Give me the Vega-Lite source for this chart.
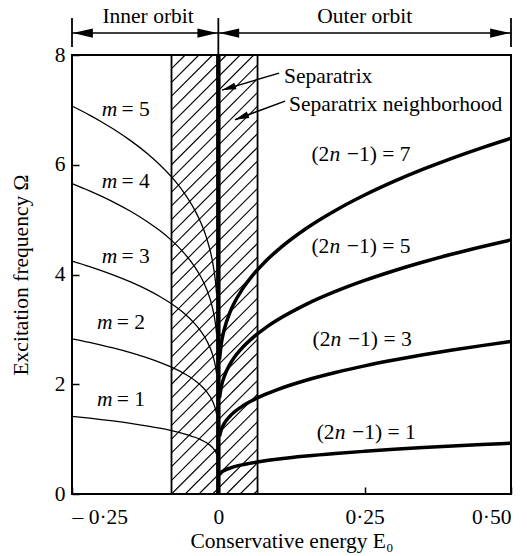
{
  "$schema": "https://vega.github.io/schema/vega-lite/v6.json",
  "autosize": "none",
  "width": 439,
  "height": 439,
  "padding": {"left": 72, "top": 55, "right": 16, "bottom": 62},
  "background": "white",
  "config": {
    "view": {"stroke": "black", "strokeWidth": 2},
    "font": "Liberation Serif",
    "axis": {
      "labelFont": "Liberation Serif", "titleFont": "Liberation Serif",
      "labelFontSize": 21.5, "titleFontSize": 21.5, "titleFontWeight": "normal",
      "labelColor": "black", "titleColor": "black", "tickColor": "black",
      "grid": false, "domain": false, "tickWidth": 1.5
    }
  },
  "datasets": {
    "inner": [
      {"m": 1, "E": -0.25, "W": 1.414}, {"m": 1, "E": -0.22, "W": 1.381}, {"m": 1, "E": -0.2, "W": 1.357}, {"m": 1, "E": -0.18, "W": 1.331}, {"m": 1, "E": -0.15, "W": 1.288}, {"m": 1, "E": -0.12, "W": 1.238}, {"m": 1, "E": -0.1, "W": 1.2}, {"m": 1, "E": -0.08, "W": 1.156}, {"m": 1, "E": -0.06, "W": 1.102}, {"m": 1, "E": -0.04, "W": 1.034}, {"m": 1, "E": -0.03, "W": 0.99}, {"m": 1, "E": -0.02, "W": 0.933}, {"m": 1, "E": -0.01, "W": 0.848}, {"m": 1, "E": -0.005, "W": 0.777}, {"m": 1, "E": -0.003, "W": 0.731},
      {"m": 2, "E": -0.25, "W": 2.828}, {"m": 2, "E": -0.22, "W": 2.762}, {"m": 2, "E": -0.2, "W": 2.714}, {"m": 2, "E": -0.18, "W": 2.662}, {"m": 2, "E": -0.15, "W": 2.576}, {"m": 2, "E": -0.12, "W": 2.477}, {"m": 2, "E": -0.1, "W": 2.4}, {"m": 2, "E": -0.08, "W": 2.311}, {"m": 2, "E": -0.06, "W": 2.204}, {"m": 2, "E": -0.04, "W": 2.068}, {"m": 2, "E": -0.03, "W": 1.979}, {"m": 2, "E": -0.02, "W": 1.865}, {"m": 2, "E": -0.01, "W": 1.696}, {"m": 2, "E": -0.005, "W": 1.554}, {"m": 2, "E": -0.003, "W": 1.462},
      {"m": 3, "E": -0.25, "W": 4.243}, {"m": 3, "E": -0.22, "W": 4.143}, {"m": 3, "E": -0.2, "W": 4.071}, {"m": 3, "E": -0.18, "W": 3.993}, {"m": 3, "E": -0.15, "W": 3.864}, {"m": 3, "E": -0.12, "W": 3.715}, {"m": 3, "E": -0.1, "W": 3.6}, {"m": 3, "E": -0.08, "W": 3.467}, {"m": 3, "E": -0.06, "W": 3.307}, {"m": 3, "E": -0.04, "W": 3.101}, {"m": 3, "E": -0.03, "W": 2.969}, {"m": 3, "E": -0.02, "W": 2.798}, {"m": 3, "E": -0.01, "W": 2.544}, {"m": 3, "E": -0.005, "W": 2.33}, {"m": 3, "E": -0.003, "W": 2.193},
      {"m": 4, "E": -0.25, "W": 5.657}, {"m": 4, "E": -0.22, "W": 5.524}, {"m": 4, "E": -0.2, "W": 5.427}, {"m": 4, "E": -0.18, "W": 5.324}, {"m": 4, "E": -0.15, "W": 5.152}, {"m": 4, "E": -0.12, "W": 4.953}, {"m": 4, "E": -0.1, "W": 4.8}, {"m": 4, "E": -0.08, "W": 4.622}, {"m": 4, "E": -0.06, "W": 4.409}, {"m": 4, "E": -0.04, "W": 4.135}, {"m": 4, "E": -0.03, "W": 3.958}, {"m": 4, "E": -0.02, "W": 3.73}, {"m": 4, "E": -0.01, "W": 3.392}, {"m": 4, "E": -0.005, "W": 3.107}, {"m": 4, "E": -0.003, "W": 2.925},
      {"m": 5, "E": -0.25, "W": 7.071}, {"m": 5, "E": -0.22, "W": 6.905}, {"m": 5, "E": -0.2, "W": 6.784}, {"m": 5, "E": -0.18, "W": 6.655}, {"m": 5, "E": -0.15, "W": 6.44}, {"m": 5, "E": -0.12, "W": 6.192}, {"m": 5, "E": -0.1, "W": 6.0}, {"m": 5, "E": -0.08, "W": 5.778}, {"m": 5, "E": -0.06, "W": 5.511}, {"m": 5, "E": -0.04, "W": 5.169}, {"m": 5, "E": -0.03, "W": 4.948}, {"m": 5, "E": -0.02, "W": 4.663}, {"m": 5, "E": -0.01, "W": 4.24}, {"m": 5, "E": -0.005, "W": 3.884}, {"m": 5, "E": -0.003, "W": 3.656}
    ],
    "outer": [
      {"n": 1, "E": 0.002, "W": 0.35}, {"n": 1, "E": 0.005, "W": 0.39}, {"n": 1, "E": 0.01, "W": 0.428}, {"n": 1, "E": 0.02, "W": 0.473}, {"n": 1, "E": 0.04, "W": 0.531}, {"n": 1, "E": 0.06, "W": 0.572}, {"n": 1, "E": 0.08, "W": 0.605}, {"n": 1, "E": 0.1, "W": 0.633}, {"n": 1, "E": 0.15, "W": 0.691}, {"n": 1, "E": 0.2, "W": 0.738}, {"n": 1, "E": 0.25, "W": 0.778}, {"n": 1, "E": 0.3, "W": 0.814}, {"n": 1, "E": 0.35, "W": 0.846}, {"n": 1, "E": 0.4, "W": 0.875}, {"n": 1, "E": 0.45, "W": 0.901}, {"n": 1, "E": 0.5, "W": 0.926},
      {"n": 3, "E": 0.002, "W": 1.05}, {"n": 3, "E": 0.005, "W": 1.17}, {"n": 3, "E": 0.01, "W": 1.283}, {"n": 3, "E": 0.02, "W": 1.42}, {"n": 3, "E": 0.04, "W": 1.593}, {"n": 3, "E": 0.06, "W": 1.715}, {"n": 3, "E": 0.08, "W": 1.814}, {"n": 3, "E": 0.1, "W": 1.899}, {"n": 3, "E": 0.15, "W": 2.073}, {"n": 3, "E": 0.2, "W": 2.214}, {"n": 3, "E": 0.25, "W": 2.335}, {"n": 3, "E": 0.3, "W": 2.441}, {"n": 3, "E": 0.35, "W": 2.537}, {"n": 3, "E": 0.4, "W": 2.624}, {"n": 3, "E": 0.45, "W": 2.704}, {"n": 3, "E": 0.5, "W": 2.778},
      {"n": 5, "E": 0.002, "W": 1.75}, {"n": 5, "E": 0.005, "W": 1.951}, {"n": 5, "E": 0.01, "W": 2.138}, {"n": 5, "E": 0.02, "W": 2.367}, {"n": 5, "E": 0.04, "W": 2.655}, {"n": 5, "E": 0.06, "W": 2.859}, {"n": 5, "E": 0.08, "W": 3.024}, {"n": 5, "E": 0.1, "W": 3.165}, {"n": 5, "E": 0.15, "W": 3.456}, {"n": 5, "E": 0.2, "W": 3.691}, {"n": 5, "E": 0.25, "W": 3.892}, {"n": 5, "E": 0.3, "W": 4.069}, {"n": 5, "E": 0.35, "W": 4.228}, {"n": 5, "E": 0.4, "W": 4.373}, {"n": 5, "E": 0.45, "W": 4.506}, {"n": 5, "E": 0.5, "W": 4.631},
      {"n": 7, "E": 0.002, "W": 2.449}, {"n": 7, "E": 0.005, "W": 2.731}, {"n": 7, "E": 0.01, "W": 2.993}, {"n": 7, "E": 0.02, "W": 3.314}, {"n": 7, "E": 0.04, "W": 3.716}, {"n": 7, "E": 0.06, "W": 4.003}, {"n": 7, "E": 0.08, "W": 4.234}, {"n": 7, "E": 0.1, "W": 4.431}, {"n": 7, "E": 0.15, "W": 4.838}, {"n": 7, "E": 0.2, "W": 5.167}, {"n": 7, "E": 0.25, "W": 5.448}, {"n": 7, "E": 0.3, "W": 5.696}, {"n": 7, "E": 0.35, "W": 5.919}, {"n": 7, "E": 0.4, "W": 6.122}, {"n": 7, "E": 0.45, "W": 6.309}, {"n": 7, "E": 0.5, "W": 6.483}
    ],
    "hatch": [
      {"E": 0.0606, "W": 0, "E2": 0.067, "W2": 0.068},
      {"E": 0.0372, "W": 0, "E2": 0.067, "W2": 0.318},
      {"E": 0.0138, "W": 0, "E2": 0.067, "W2": 0.568},
      {"E": -0.0097, "W": 0, "E2": 0.067, "W2": 0.818},
      {"E": -0.0331, "W": 0, "E2": 0.067, "W2": 1.068},
      {"E": -0.0566, "W": 0, "E2": 0.067, "W2": 1.318},
      {"E": -0.08, "W": 0, "E2": 0.067, "W2": 1.568},
      {"E": -0.08, "W": 0.25, "E2": 0.067, "W2": 1.818},
      {"E": -0.08, "W": 0.5, "E2": 0.067, "W2": 2.068},
      {"E": -0.08, "W": 0.75, "E2": 0.067, "W2": 2.318},
      {"E": -0.08, "W": 1.0, "E2": 0.067, "W2": 2.568},
      {"E": -0.08, "W": 1.25, "E2": 0.067, "W2": 2.818},
      {"E": -0.08, "W": 1.5, "E2": 0.067, "W2": 3.068},
      {"E": -0.08, "W": 1.75, "E2": 0.067, "W2": 3.318},
      {"E": -0.08, "W": 2.0, "E2": 0.067, "W2": 3.568},
      {"E": -0.08, "W": 2.25, "E2": 0.067, "W2": 3.818},
      {"E": -0.08, "W": 2.5, "E2": 0.067, "W2": 4.068},
      {"E": -0.08, "W": 2.75, "E2": 0.067, "W2": 4.318},
      {"E": -0.08, "W": 3.0, "E2": 0.067, "W2": 4.568},
      {"E": -0.08, "W": 3.25, "E2": 0.067, "W2": 4.818},
      {"E": -0.08, "W": 3.5, "E2": 0.067, "W2": 5.068},
      {"E": -0.08, "W": 3.75, "E2": 0.067, "W2": 5.318},
      {"E": -0.08, "W": 4.0, "E2": 0.067, "W2": 5.568},
      {"E": -0.08, "W": 4.25, "E2": 0.067, "W2": 5.818},
      {"E": -0.08, "W": 4.5, "E2": 0.067, "W2": 6.068},
      {"E": -0.08, "W": 4.75, "E2": 0.067, "W2": 6.318},
      {"E": -0.08, "W": 5.0, "E2": 0.067, "W2": 6.568},
      {"E": -0.08, "W": 5.25, "E2": 0.067, "W2": 6.818},
      {"E": -0.08, "W": 5.5, "E2": 0.067, "W2": 7.068},
      {"E": -0.08, "W": 5.75, "E2": 0.067, "W2": 7.318},
      {"E": -0.08, "W": 6.0, "E2": 0.067, "W2": 7.568},
      {"E": -0.08, "W": 6.25, "E2": 0.067, "W2": 7.818},
      {"E": -0.08, "W": 6.5, "E2": 0.0606, "W2": 8},
      {"E": -0.08, "W": 6.75, "E2": 0.0372, "W2": 8},
      {"E": -0.08, "W": 7.0, "E2": 0.0138, "W2": 8},
      {"E": -0.08, "W": 7.25, "E2": -0.0097, "W2": 8},
      {"E": -0.08, "W": 7.5, "E2": -0.0331, "W2": 8},
      {"E": -0.08, "W": 7.75, "E2": -0.0566, "W2": 8}
    ],
    "hborder": [{"E": -0.08, "W": 0, "W2": 8}, {"E": 0.067, "W": 0, "W2": 8}],
    "sep": [{"E": 0, "W": 0, "W2": 8}],
    "topTicks": [{"E": -0.25, "W": 8.146, "W2": 8.674}, {"E": 0, "W": 8, "W2": 8.674}, {"E": 0.5, "W": 8.146, "W2": 8.674}],
    "topLines": [{"E": -0.25, "E2": 0, "W": 8.4}, {"E": 0, "E2": 0.5, "W": 8.4}],
    "headsLeft": [{"E": -0.2485, "W": 8.4}, {"E": 0.0015, "W": 8.4}],
    "headsRight": [{"E": -0.0015, "W": 8.4}, {"E": 0.4985, "W": 8.4}],
    "topText": [{"E": -0.12, "W": 8.58, "t": "Inner orbit"}, {"E": 0.25, "W": 8.58, "t": "Outer orbit"}],
    "notes": [{"E": 0.1122, "W": 7.6, "t": "Separatrix"}, {"E": 0.1207, "W": 7.09, "t": "Separatrix neighborhood"}],
    "noteLines": [{"E": 0.1037, "W": 7.67, "E2": 0.0063, "W2": 7.36}, {"E": 0.1139, "W": 7.16, "E2": 0.0285, "W2": 6.82}],
    "head1": [{"E": 0.0063, "W": 7.36}],
    "head2": [{"E": 0.0285, "W": 6.82}],
    "labels": [
      {"E": -0.186, "W": 6.99, "pre": "", "v": "m", "post": "= 5"},
      {"E": -0.186, "W": 5.69, "pre": "", "v": "m", "post": "= 4"},
      {"E": -0.186, "W": 4.32, "pre": "", "v": "m", "post": "= 3"},
      {"E": -0.194, "W": 3.12, "pre": "", "v": "m", "post": "= 2"},
      {"E": -0.194, "W": 1.71, "pre": "", "v": "m", "post": "= 1"},
      {"E": 0.199, "W": 6.18, "pre": "(2", "v": "n", "post": "−1) = 7"},
      {"E": 0.199, "W": 4.5, "pre": "(2", "v": "n", "post": "−1) = 5"},
      {"E": 0.201, "W": 2.81, "pre": "(2", "v": "n", "post": "−1) = 3"},
      {"E": 0.208, "W": 1.11, "pre": "(2", "v": "n", "post": "−1) = 1"}
    ]
  },
  "encoding": {
    "x": {
      "field": "E", "type": "quantitative",
      "scale": {"domain": [-0.25, 0.5], "nice": false, "zero": false},
      "axis": {
        "values": [-0.25, 0, 0.25, 0.5], "tickSize": -7, "labelPadding": 19,
        "labelExpr": "datum.value < 0 ? '– 0·25' : datum.value == 0 ? '0' : datum.value == 0.25 ? '0·25' : '0·50'",
        "title": "Conservative energy E₀", "titlePadding": 3
      }
    },
    "y": {
      "field": "W", "type": "quantitative",
      "scale": {"domain": [0, 8], "nice": false, "zero": true},
      "axis": {
        "values": [0, 2, 4, 6, 8], "tickSize": -7, "labelPadding": 14,
        "title": "Excitation frequency Ω", "titlePadding": 22
      }
    }
  },
  "layer": [
    {"data": {"name": "hatch"}, "mark": {"type": "rule", "color": "black", "strokeWidth": 1.1},
     "encoding": {"x2": {"field": "E2"}, "y2": {"field": "W2"}}},
    {"data": {"name": "hborder"}, "mark": {"type": "rule", "color": "black", "strokeWidth": 1.8},
     "encoding": {"y2": {"field": "W2"}}},
    {"data": {"name": "inner"}, "mark": {"type": "line", "color": "black", "strokeWidth": 1.3, "interpolate": "monotone"},
     "encoding": {"detail": {"field": "m", "type": "nominal"}}},
    {"data": {"name": "outer"}, "mark": {"type": "line", "color": "black", "strokeWidth": 3.5, "interpolate": "monotone"},
     "encoding": {"detail": {"field": "n", "type": "nominal"}}},
    {"data": {"name": "sep"}, "mark": {"type": "rule", "color": "black", "strokeWidth": 4.5},
     "encoding": {"y2": {"field": "W2"}}},
    {"data": {"name": "topTicks"}, "mark": {"type": "rule", "color": "black", "strokeWidth": 1.8},
     "encoding": {"y2": {"field": "W2"}}},
    {"data": {"name": "topLines"}, "mark": {"type": "rule", "color": "black", "strokeWidth": 1.5},
     "encoding": {"x2": {"field": "E2"}}},
    {"data": {"name": "headsLeft"}, "mark": {"type": "point", "shape": "M0,0L-1,-0.23L-1,0.23Z", "filled": true, "color": "black", "opacity": 1, "size": 1600, "angle": 180, "strokeWidth": 0}},
    {"data": {"name": "headsRight"}, "mark": {"type": "point", "shape": "M0,0L-1,-0.23L-1,0.23Z", "filled": true, "color": "black", "opacity": 1, "size": 1600, "angle": 0, "strokeWidth": 0}},
    {"data": {"name": "topText"}, "mark": {"type": "text", "fontSize": 21.5, "font": "Liberation Serif", "align": "center", "baseline": "alphabetic", "color": "black"},
     "encoding": {"text": {"field": "t"}}},
    {"data": {"name": "noteLines"}, "mark": {"type": "rule", "color": "black", "strokeWidth": 1.5},
     "encoding": {"x2": {"field": "E2"}, "y2": {"field": "W2"}}},
    {"data": {"name": "head1"}, "mark": {"type": "point", "shape": "M0,0L-1,-0.25L-1,0.25Z", "filled": true, "color": "black", "opacity": 1, "size": 784, "angle": 163, "strokeWidth": 0}},
    {"data": {"name": "head2"}, "mark": {"type": "point", "shape": "M0,0L-1,-0.25L-1,0.25Z", "filled": true, "color": "black", "opacity": 1, "size": 784, "angle": 159, "strokeWidth": 0}},
    {"data": {"name": "notes"}, "mark": {"type": "text", "fontSize": 21.5, "font": "Liberation Serif", "align": "left", "baseline": "middle", "color": "black"},
     "encoding": {"text": {"field": "t"}}},
    {"data": {"name": "labels"}, "mark": {"type": "text", "fontSize": 21.5, "font": "Liberation Serif", "align": "right", "baseline": "middle", "dx": -5.5, "color": "black"},
     "encoding": {"text": {"field": "pre"}}},
    {"data": {"name": "labels"}, "mark": {"type": "text", "fontSize": 21.5, "font": "Liberation Serif", "fontStyle": "italic", "align": "center", "baseline": "middle", "color": "black"},
     "encoding": {"text": {"field": "v"}}},
    {"data": {"name": "labels"}, "mark": {"type": "text", "fontSize": 21.5, "font": "Liberation Serif", "align": "left", "baseline": "middle", "dx": 12, "color": "black"},
     "encoding": {"text": {"field": "post"}}}
  ]
}
